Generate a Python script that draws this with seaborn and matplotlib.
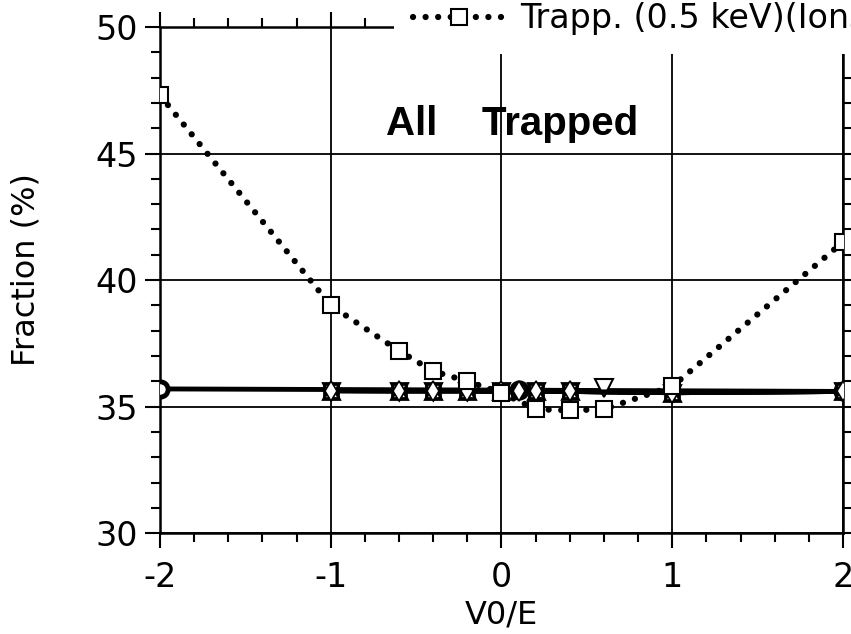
import matplotlib
matplotlib.use("Agg")
import matplotlib.pyplot as plt
from matplotlib.ticker import MultipleLocator
import seaborn as sns

# V0/E positions and trapped fractions (%)
x_trap = [-2, -1, -0.6, -0.4, -0.2, 0, 0.2, 0.4, 0.6, 1, 2]
trap_05 = [47.3, 39.0, 37.2, 36.4, 36.0, 35.55, 34.9, 34.85, 34.9, 35.8, 41.5]

x_circ = [-2, 0.1, 2]
trap_circ = [35.7, 35.65, 35.6]

x_box = [-1, -0.6, -0.4, -0.2, 0, 0.2, 0.4, 1, 2]
trap_box = [35.63, 35.62, 35.62, 35.62, 35.6, 35.6, 35.6, 35.55, 35.6]
trap_up = [35.63, 35.62, 35.62, 35.62, 35.6, 35.6, 35.6, 35.55, 35.6]
trap_dn = [35.63, 35.62, 35.62, 35.62, 35.6, 35.6, 35.6, 35.55, 35.6]

x_dn_extra = [0.6]
trap_dn_extra = [35.72]

x_diam = [-1, -0.6, -0.4, -0.2, 0, 0.1, 0.2, 0.4, 1, 2]
trap_diam = [35.63, 35.62, 35.62, 35.62, 35.6, 35.62, 35.6, 35.6, 35.55, 35.6]

legend_label = "Trapp. (0.5 keV)(Ions)"
x_ticks = [-2, -1, 0, 1, 2]
y_ticks = [30, 35, 40, 45, 50]


def main():
    sns.set_theme(style="white")
    plt.rcParams["font.family"] = ["DejaVu Sans"]
    for key in ["text.color", "axes.labelcolor", "xtick.color", "ytick.color"]:
        plt.rcParams[key] = "black"

    fig = plt.figure(figsize=(8.51, 6.34), dpi=100)
    ax = fig.add_axes([0.188, 0.159, 0.8026, 0.7985])

    common = dict(ax=ax, color="black", markeredgecolor="black", zorder=4)
    # solid group, all near 35.6 %
    sns.lineplot(x=x_circ, y=trap_circ, linewidth=3.5, marker="o",
                 markersize=11, markerfacecolor="white",
                 markeredgewidth=3.5, **common)
    sns.lineplot(x=x_box, y=trap_box, linewidth=3.5, marker="s",
                 markersize=10, markerfacecolor="white",
                 markeredgewidth=2, **common)
    sns.lineplot(x=x_box, y=trap_up, linewidth=3.5, marker="^",
                 markersize=11, markerfacecolor="none",
                 markeredgewidth=2, **common)
    sns.lineplot(x=x_box, y=trap_dn, linewidth=3.5, marker="v",
                 markersize=11, markerfacecolor="none",
                 markeredgewidth=2, **common)
    sns.lineplot(x=x_dn_extra, y=trap_dn_extra, marker="v",
                 markersize=13, markerfacecolor="white",
                 markeredgewidth=1.5, **common)
    sns.lineplot(x=x_diam, y=trap_diam, linewidth=3.5, marker="d",
                 markersize=10, markerfacecolor="white",
                 markeredgewidth=1.2, **common)

    # dotted 0.5 keV ions
    sns.lineplot(x=x_trap, y=trap_05, ax=ax, color="black", linewidth=4.5,
                 linestyle=(0, (0.01, 2.0)), dash_capstyle="round",
                 marker="s", markersize=11, markerfacecolor="white",
                 markeredgecolor="black", markeredgewidth=1.5, zorder=5,
                 label=legend_label)

    ax.set_xlim(-2, 2)
    ax.set_ylim(30, 50)
    ax.set_xticks(x_ticks)
    ax.set_yticks(y_ticks)
    ax.set_xticklabels(["-2", "-1", "0", "1", "2"])
    ax.xaxis.set_minor_locator(MultipleLocator(0.2))
    ax.yaxis.set_minor_locator(MultipleLocator(1))
    ax.tick_params(which="both", direction="out", colors="black",
                   bottom=True, left=True, top=True, right=True, width=1.5)
    ax.tick_params(which="major", length=11, labelsize=24)
    ax.tick_params(axis="y", which="major", pad=5)
    ax.tick_params(axis="x", which="major", pad=9)
    ax.tick_params(which="minor", length=6.5)
    ax.grid(True, which="major", color="black", linewidth=1.3)
    for sp in ax.spines.values():
        sp.set_color("black")
        sp.set_linewidth(1.8)

    ax.set_xlabel("V0/E", fontsize=23)
    ax.set_ylabel("Fraction (%)", fontsize=23)
    ax.xaxis.set_label_coords(0.5, -0.13)
    ax.yaxis.set_label_coords(-0.173, 0.52)

    ax.text(0.06, 46.15, "All    Trapped", fontsize=29, fontweight="bold",
            family="Liberation Sans", ha="center", va="center")

    leg = ax.legend(loc="center left", bbox_to_anchor=(0.343, 1.016),
                    fontsize=24, frameon=True, fancybox=False,
                    handlelength=2.8, handletextpad=0.42, borderpad=0.55,
                    borderaxespad=0, numpoints=1)
    leg.get_frame().set_facecolor("white")
    leg.get_frame().set_edgecolor("none")
    leg.get_frame().set_alpha(1)
    leg.set_zorder(10)

    fig.savefig("out.png", dpi=100)


if __name__ == "__main__":
    main()
